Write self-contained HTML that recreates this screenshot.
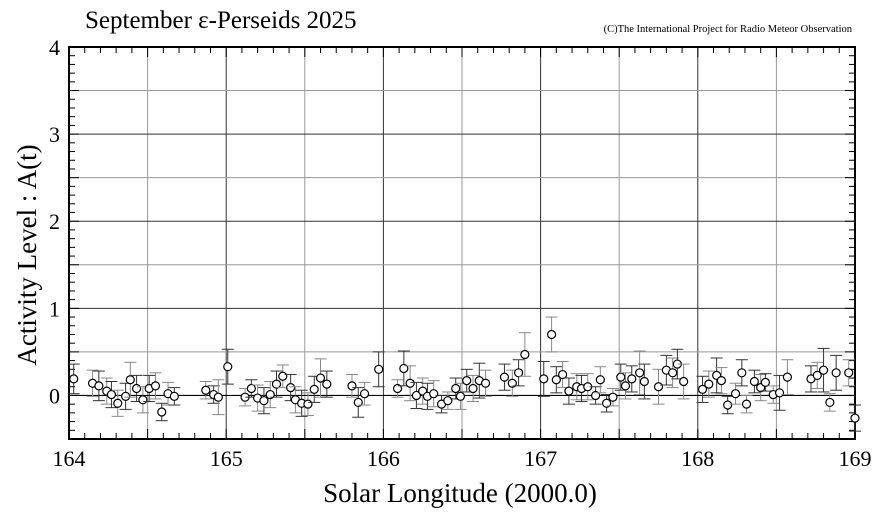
<!DOCTYPE html>
<html><head><meta charset="utf-8"><style>
body{margin:0;background:#fff;}
svg{display:block;font-family:"Liberation Serif",serif;}
</style></head><body>
<svg id="chart" width="881" height="513" viewBox="0 0 881 513" xmlns="http://www.w3.org/2000/svg">
<rect width="881" height="513" fill="#fff"/>
<text x="85" y="28" font-size="25">September ε-Perseids 2025</text>
<text x="852" y="32" font-size="10.5" text-anchor="end">(C)The International Project for Radio Meteor Observation</text>
<text transform="translate(36,255) rotate(-90)" font-size="27" text-anchor="middle">Activity Level : A(t)</text>
<text x="460" y="502" font-size="27" text-anchor="middle">Solar Longitude (2000.0)</text>
<g id="grid"></g><g id="axes"></g><g id="marks"></g>
</svg>
<script>
const xs=[164.03,164.15,164.19,164.24,164.27,164.31,164.36,164.39,164.43,164.47,164.51,164.55,164.59,164.63,164.67,164.87,164.92,164.95,165.01,165.12,165.16,165.20,165.24,165.28,165.32,165.36,165.41,165.44,165.48,165.52,165.56,165.60,165.64,165.80,165.84,165.88,165.97,166.09,166.13,166.17,166.21,166.25,166.28,166.32,166.37,166.41,166.46,166.49,166.53,166.57,166.61,166.65,166.77,166.82,166.86,166.90,167.02,167.07,167.10,167.14,167.18,167.23,167.26,167.30,167.35,167.38,167.42,167.46,167.51,167.54,167.58,167.63,167.66,167.75,167.80,167.84,167.87,167.91,168.03,168.07,168.12,168.15,168.19,168.24,168.28,168.31,168.36,168.40,168.43,168.48,168.52,168.57,168.72,168.76,168.80,168.84,168.88,168.96,169.00];
const ys=[0.19,0.14,0.11,0.05,0.01,-0.09,-0.01,0.18,0.08,-0.05,0.08,0.11,-0.19,0.02,-0.01,0.06,0.01,-0.02,0.33,-0.02,0.08,-0.03,-0.06,0.01,0.13,0.22,0.09,-0.05,-0.09,-0.10,0.07,0.20,0.13,0.11,-0.08,0.02,0.30,0.08,0.31,0.14,0.00,0.05,-0.01,0.02,-0.10,-0.06,0.08,-0.01,0.17,0.08,0.17,0.14,0.21,0.14,0.26,0.47,0.19,0.70,0.18,0.24,0.05,0.10,0.08,0.10,0.00,0.18,-0.09,-0.02,0.21,0.11,0.19,0.26,0.16,0.10,0.29,0.26,0.36,0.16,0.07,0.13,0.23,0.17,-0.11,0.02,0.26,-0.10,0.16,0.09,0.15,0.01,0.03,0.21,0.19,0.23,0.29,-0.08,0.26,0.26,-0.26];
const errs=[0.17,0.15,0.17,0.15,0.15,0.15,0.15,0.2,0.15,0.15,0.15,0.15,0.1,0.13,0.1,0.1,0.1,0.2,0.2,0.1,0.1,0.15,0.15,0.15,0.15,0.13,0.15,0.15,0.15,0.13,0.15,0.22,0.15,0.13,0.17,0.13,0.2,0.1,0.2,0.2,0.15,0.15,0.15,0.15,0.1,0.1,0.12,0.15,0.13,0.15,0.2,0.15,0.15,0.15,0.15,0.25,0.2,0.2,0.15,0.15,0.15,0.15,0.15,0.15,0.1,0.15,0.1,0.1,0.15,0.15,0.15,0.25,0.2,0.2,0.17,0.17,0.17,0.2,0.15,0.15,0.2,0.15,0.1,0.12,0.15,0.1,0.13,0.15,0.1,0.1,0.2,0.2,0.15,0.15,0.25,0.1,0.2,0.15,0.15];
const xTicks=[164,165,166,167,168,169];
const yTicks=[0,1,2,3,4];
const L=69,R=855,T=47,B=439,X0=164,X1=169,Y0=-0.5,Y1=4;
const sx=v=>L+(v-X0)/(X1-X0)*(R-L);
const sy=v=>B-(v-Y0)/(Y1-Y0)*(B-T);
const NS="http://www.w3.org/2000/svg";
function mk(p,t,a){const e=document.createElementNS(NS,t);for(const k in a)e.setAttribute(k,a[k]);p.appendChild(e);return e;}
const grid=document.getElementById('grid'),axes=document.getElementById('axes'),marks=document.getElementById('marks');
for(let v=164.5;v<169;v+=0.5){const l=mk(grid,'line',{x1:sx(v),x2:sx(v),y1:T,y2:B,stroke:(Math.abs(v-Math.round(v))<0.01)?'#333':'#999','stroke-width':1});

}
for(let v=0.5;v<4;v+=0.5){const l=mk(grid,'line',{x1:L,x2:R,y1:sy(v),y2:sy(v),stroke:(Math.abs(v-Math.round(v))<0.01)?'#333':'#999','stroke-width':1});

}
const z=mk(grid,'line',{x1:L,x2:R,y1:sy(0),y2:sy(0),stroke:'#000','stroke-width':1.2});


for(let i=0;i<=50;i++){const v=164+i*0.1,x=sx(v),len=(i%5==0)?10:6;
mk(axes,'line',{x1:x,x2:x,y1:B,y2:B-len,stroke:'#000','stroke-width':1});
mk(axes,'line',{x1:x,x2:x,y1:T,y2:T+len,stroke:'#000','stroke-width':1});}
for(let i=-5;i<=40;i++){const v=i*0.1,y=sy(v),len=(i%5==0)?10:6;
mk(axes,'line',{x1:L,x2:L+len,y1:y,y2:y,stroke:'#000','stroke-width':1});
mk(axes,'line',{x1:R,x2:R-len,y1:y,y2:y,stroke:'#000','stroke-width':1});}
const fr=mk(axes,'rect',{x:L,y:T,width:R-L,height:B-T,fill:'none',stroke:'#000','stroke-width':2});


xTicks.forEach(v=>{const t=mk(axes,'text',{x:sx(v),y:B+27,'font-size':22,'text-anchor':'middle'});t.textContent=v;

});
yTicks.forEach(v=>{const t=mk(axes,'text',{x:L-9,y:sy(v)+8,'font-size':22,'text-anchor':'end'});t.textContent=v;

});
xs.forEach((xv,i)=>{const x=sx(xv),y=sy(ys[i]),e=errs[i],y1=sy(ys[i]+e),y2=sy(ys[i]-e);
const g=mk(marks,'g',{});


const c=(i%2)?'#888':'#333';
mk(g,'line',{x1:x,x2:x,y1:y1,y2:y2,stroke:c,'stroke-width':1});
mk(g,'line',{x1:x-6,x2:x+6,y1:y1,y2:y1,stroke:c,'stroke-width':1});
mk(g,'line',{x1:x-6,x2:x+6,y1:y2,y2:y2,stroke:c,'stroke-width':1});
mk(g,'circle',{cx:x,cy:y,r:4,fill:'#fff',stroke:'#000','stroke-width':1.2});});
</script>
</body></html>
